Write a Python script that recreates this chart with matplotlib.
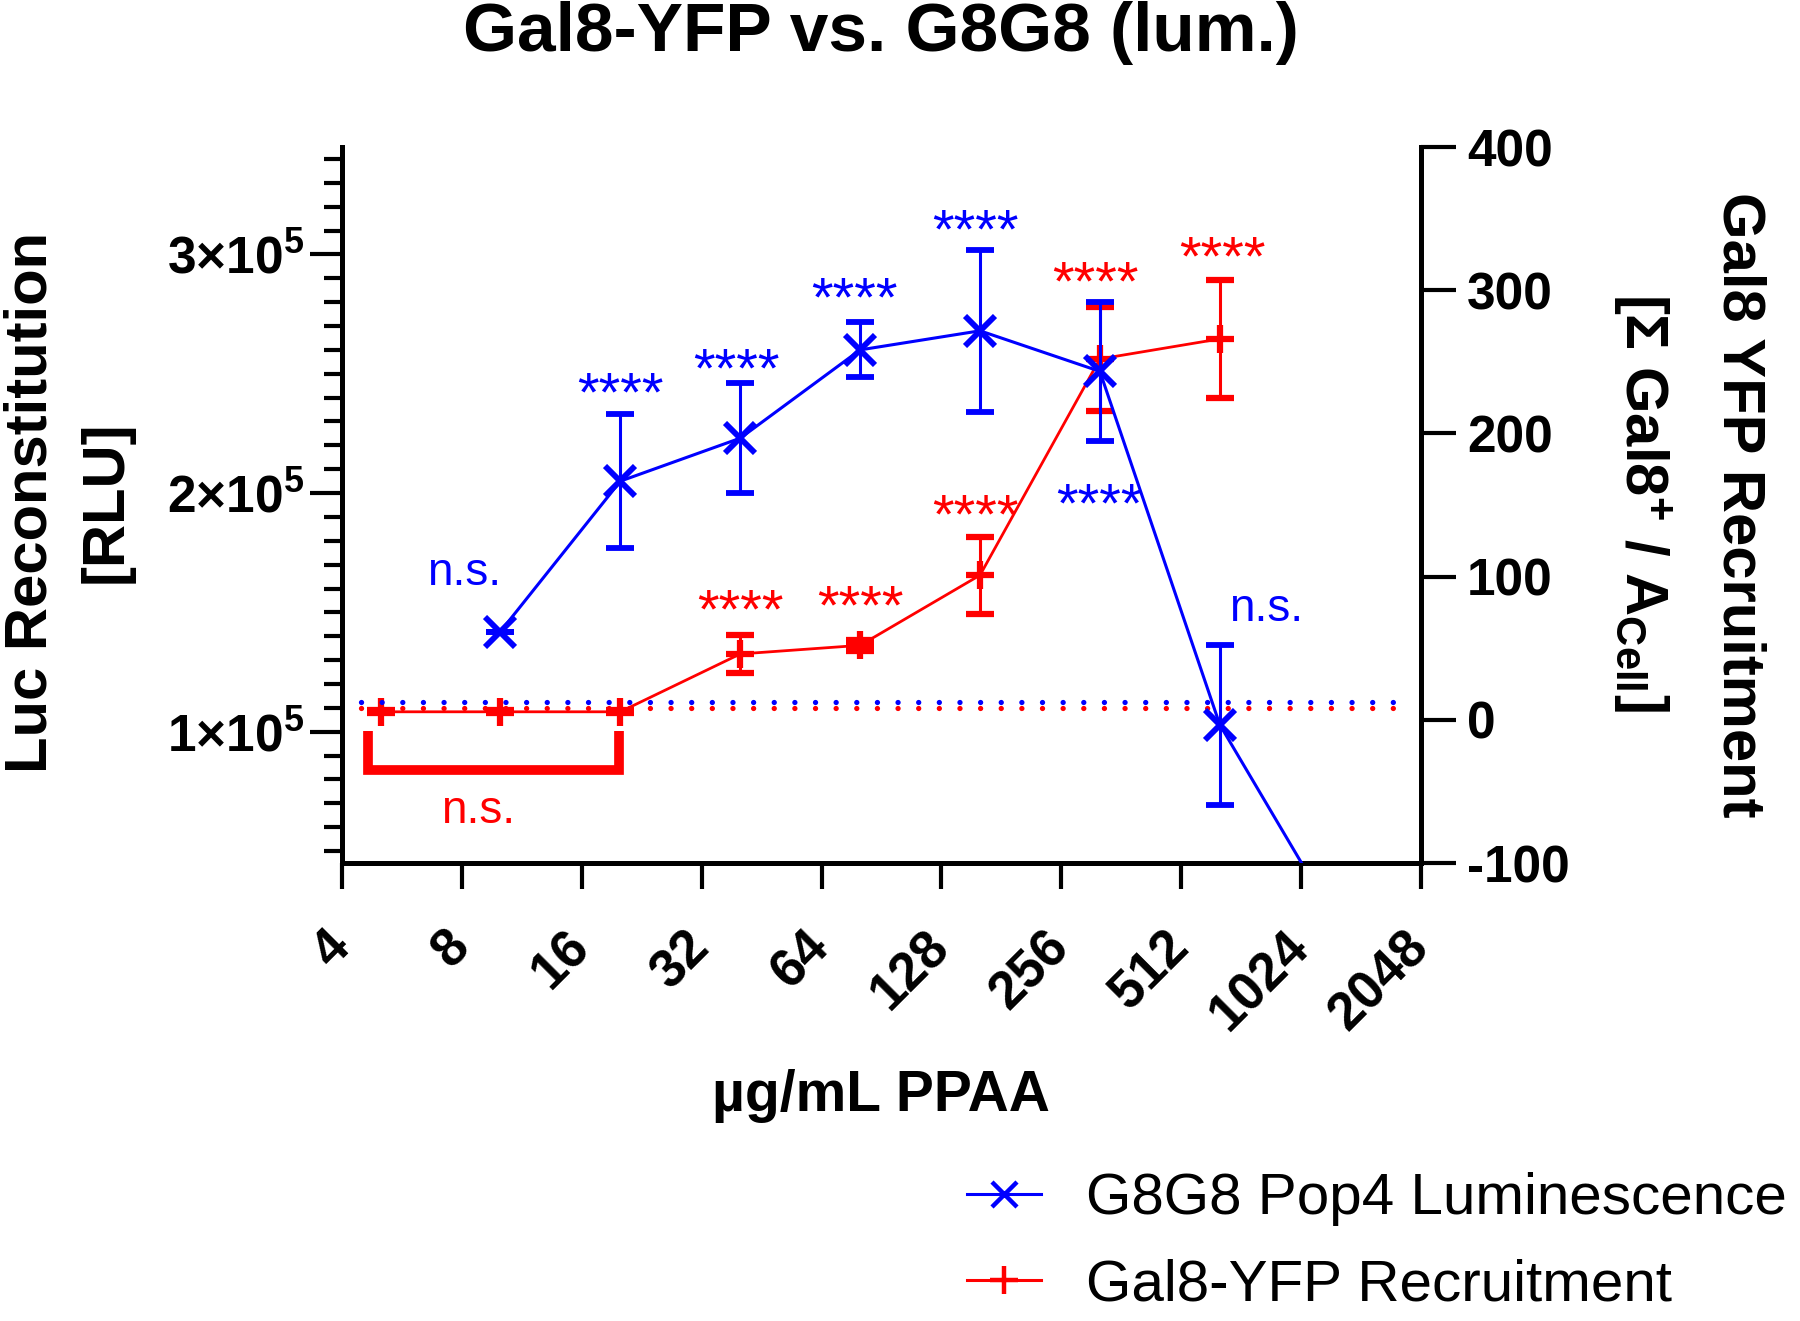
import matplotlib
matplotlib.use("Agg")
import matplotlib.pyplot as plt
from matplotlib.lines import Line2D
from matplotlib.ticker import MultipleLocator, NullLocator

plt.rcParams['font.family'] = ['Liberation Sans', 'DejaVu Sans']
plt.rcParams['mathtext.fontset'] = 'custom'
plt.rcParams['mathtext.rm'] = 'Liberation Sans'
plt.rcParams['mathtext.bf'] = 'Liberation Sans:bold'
plt.rcParams['mathtext.it'] = 'Liberation Sans:italic'

BLUE = '#0000ff'
RED = '#ff0000'

# G8G8 Pop4 luminescence (left axis, RLU)
lum_conc = [10, 20, 40, 80, 160, 320, 640, 1280]
lum_mean = [1.42e5, 2.05e5, 2.23e5, 2.60e5, 2.68e5, 2.51e5, 1.03e5, 0.18e5]
lum_sd = [0, 0.28e5, 0.23e5, 0.115e5, 0.34e5, 0.29e5, 0.335e5, 0]
lum_sig = ['n.s.', '****', '****', '****', '****', '****', 'n.s.', '']
lum_baseline = 1.125e5

# Gal8-YFP recruitment (right axis)
rec_conc = [5, 10, 20, 40, 80, 160, 320, 640]
rec_mean = [5.6, 5.6, 5.6, 46, 52, 101, 252, 266]
rec_sd = [1, 1, 1, 13.5, 4, 27, 36, 41]
rec_sig = ['', '', '', '****', '****', '****', '****', '****']
rec_baseline = 8

x_ticks = [4, 8, 16, 32, 64, 128, 256, 512, 1024, 2048]
left_ticks = [1e5, 2e5, 3e5]
left_labels = [r'$\mathbf{1{\times}10^{5}}$', r'$\mathbf{2{\times}10^{5}}$',
               r'$\mathbf{3{\times}10^{5}}$']
right_ticks = [-100, 0, 100, 200, 300, 400]

# label placement (offsets in points from error bar end)
lum_dx = [-26, 0, -3, -4, -3, 0, 33, 0]
lum_dy = [42, 13, 8, 15, 12, -48, 26, 0]
rec_dx = [0, 0, 0, 0, 0, -3, -3, 2]
rec_dy = [0, 0, 0, 15, 22, 13, 16, 14]

fig = plt.figure(figsize=(18, 13.21), dpi=100)
ax = fig.add_axes([0.19, 0.3467, 0.5994, 0.542])
ax2 = ax.twinx()
ax.set_zorder(ax2.get_zorder() + 1)
ax.patch.set_visible(False)

# baselines
ax2.axhline(rec_baseline, xmin=0.018, xmax=0.985, color=RED, lw=3.8,
            linestyle=(0, (0.01, 3.9)), dash_capstyle='round', zorder=1)
ax.axhline(lum_baseline, xmin=0.018, xmax=0.985, color=BLUE, lw=3.8,
           linestyle=(0, (0.01, 3.9)), dash_capstyle='round', zorder=1)

# red series
ax2.errorbar(rec_conc, rec_mean, yerr=rec_sd, color=RED, lw=2.0,
             elinewidth=2.2, capsize=10, capthick=2.2, marker='+',
             ms=20, mew=4.5, zorder=3)

# blue series
ax.errorbar(lum_conc, lum_mean, yerr=lum_sd, color=BLUE, lw=2.2,
            elinewidth=2.2, capsize=10, capthick=2.2, marker='x',
            ms=21, mew=4.2, zorder=3)

for x, m, s, lab, dx, dy in zip(lum_conc, lum_mean, lum_sd, lum_sig,
                                lum_dx, lum_dy):
    if not lab:
        continue
    y0 = m + s if dy > 0 else m - s
    fs = 33 if lab == 'n.s.' else 40
    ax.annotate(lab, (x, y0), xytext=(dx, dy), textcoords='offset points',
                ha='center', va='center', color=BLUE, fontsize=fs,
                annotation_clip=False)

for x, m, s, lab, dx, dy in zip(rec_conc, rec_mean, rec_sd, rec_sig,
                                rec_dx, rec_dy):
    if not lab:
        continue
    ax2.annotate(lab, (x, m + s), xytext=(dx, dy), textcoords='offset points',
                 ha='center', va='center', color=RED, fontsize=40,
                 annotation_clip=False)

# n.s. bracket under the three lowest doses
bx0 = rec_conc[0] * 0.93
bx1 = rec_conc[2] * 0.995
ax2.plot([bx0, bx0, bx1, bx1], [-8, -35, -35, -8], color=RED, lw=7,
         solid_capstyle='butt', solid_joinstyle='miter', zorder=3)
ax2.text((bx0 * bx1) ** 0.5 * 0.915, -64, 'n.s.', color=RED, fontsize=33,
         ha='center', va='center')

# axes
ax.set_xscale('log', base=2)
ax.set_xlim(4, 2048)
ax.set_xticks(x_ticks)
ax.set_xticklabels([str(t) for t in x_ticks])
ax.xaxis.set_minor_locator(NullLocator())
ax.set_ylim(45000, 345000)
ax.set_yticks(left_ticks)
ax.set_yticklabels(left_labels)
ax.yaxis.set_minor_locator(MultipleLocator(1e4))
ax2.set_ylim(-100, 400)
ax2.set_yticks(right_ticks)
ax2.set_yticklabels([str(t) for t in right_ticks], fontweight='bold')

for s in ['top', 'right']:
    ax.spines[s].set_visible(False)
for s in ['top', 'left', 'bottom']:
    ax2.spines[s].set_visible(False)
for sp in [ax.spines['left'], ax.spines['bottom'], ax2.spines['right']]:
    sp.set_linewidth(3.6)

ax.tick_params(axis='x', length=19, width=3, labelsize=38, pad=36)
ax.tick_params(axis='y', which='major', length=23, width=3, labelsize=37,
               pad=4)
ax.tick_params(axis='y', which='minor', length=13, width=3)
ax2.tick_params(axis='y', length=25, width=3, labelsize=37, pad=8)
for lab in ax.get_xticklabels():
    lab.set_rotation(45)
    lab.set_ha('right')
    lab.set_va('center')
    lab.set_rotation_mode('anchor')
    lab.set_fontweight('bold')

# titles and labels
fig.text(0.4894, 0.975, 'Gal8-YFP vs. G8G8 (lum.)', ha='center', va='center',
         fontsize=50, fontweight='bold')
fig.text(0.4894, 0.170, 'µg/mL PPAA', ha='center', va='center',
         fontsize=41, fontweight='bold')
fig.text(0.017, 0.62, 'Luc Reconstitution', rotation=90, ha='center',
         va='center', fontsize=43, fontweight='bold')
fig.text(0.059, 0.62, '[RLU]', rotation=90, ha='center',
         va='center', fontsize=43, fontweight='bold')
fig.text(0.966, 0.618, 'Gal8 YFP Recruitment', rotation=270, ha='center',
         va='center', fontsize=43, fontweight='bold')
fig.text(0.912, 0.62, r'[Σ Gal8$^{\mathbf{+}}$ / A$_{\mathbf{Cell}}$]',
         rotation=270, ha='center', va='center', fontsize=43,
         fontweight='bold')

handles = [
    Line2D([], [], color=BLUE, lw=2.2, marker='x', ms=18, mew=3.2),
    Line2D([], [], color=RED, lw=2.2, marker='+', ms=20, mew=3.2),
]
fig.legend(handles, ['G8G8 Pop4 Luminescence', 'Gal8-YFP Recruitment'],
           loc='center left', bbox_to_anchor=(0.537, 0.0595), frameon=False,
           fontsize=42, handlelength=1.28, handletextpad=0.76,
           labelspacing=0.56, borderpad=0, borderaxespad=0)

fig.savefig('out.png', dpi=100)
